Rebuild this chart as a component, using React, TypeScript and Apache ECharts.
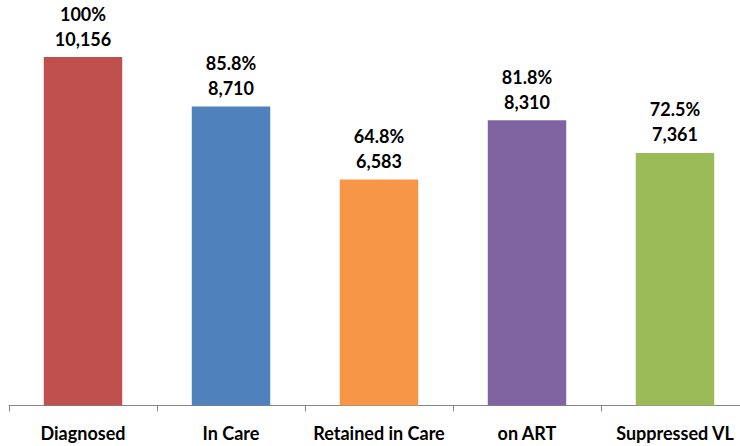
import React, { useEffect, useRef } from "react";
import * as echarts from "echarts";

const categories = ["Diagnosed", "In Care", "Retained in Care", "on ART", "Suppressed VL"];
const values = [10156, 8710, 6583, 8310, 7361];
const percents = ["100%", "85.8%", "64.8%", "81.8%", "72.5%"];
const colors = ["#C0504D", "#4F81BD", "#F79646", "#8064A2", "#9BBB59"];

export default function App() {
  const ref = useRef<HTMLDivElement>(null);
  useEffect(() => {
    const chart = echarts.init(ref.current!, null, { renderer: "svg" });
    chart.setOption({
      animation: false,
      grid: { left: 9, right: 0, top: 57, bottom: 40.5, containLabel: false },
      xAxis: {
        type: "category",
        data: categories,
        axisLine: { lineStyle: { color: "#868686", width: 1 } },
        axisTick: { show: true, length: 6, lineStyle: { color: "#868686" } },
        axisLabel: {
          interval: 0,
          color: "#000",
          fontFamily: "Lato",
          fontWeight: "bold",
          fontSize: 18,
          margin: 18,
        },
      },
      yAxis: {
        type: "value",
        min: 0,
        max: 10156,
        show: false,
        splitLine: { show: false },
      },
      series: [
        {
          type: "bar",
          barWidth: "53%",
          data: values.map((v, i) => ({ value: v, itemStyle: { color: colors[i] } })),
          label: {
            show: true,
            position: "top",
            distance: 6,
            color: "#000",
            fontFamily: "Lato",
            fontWeight: "bold",
            fontSize: 18,
            lineHeight: 25,
            formatter: (p: any) =>
              percents[p.dataIndex] + "\n" + (p.value as number).toLocaleString("en-US"),
          },
        },
      ],
    });
    return () => chart.dispose();
  }, []);
  return (
    <div
      ref={ref}
      style={{ position: "fixed", left: 0, top: 0, width: 749, height: 446, background: "#fff" }}
    />
  );
}
